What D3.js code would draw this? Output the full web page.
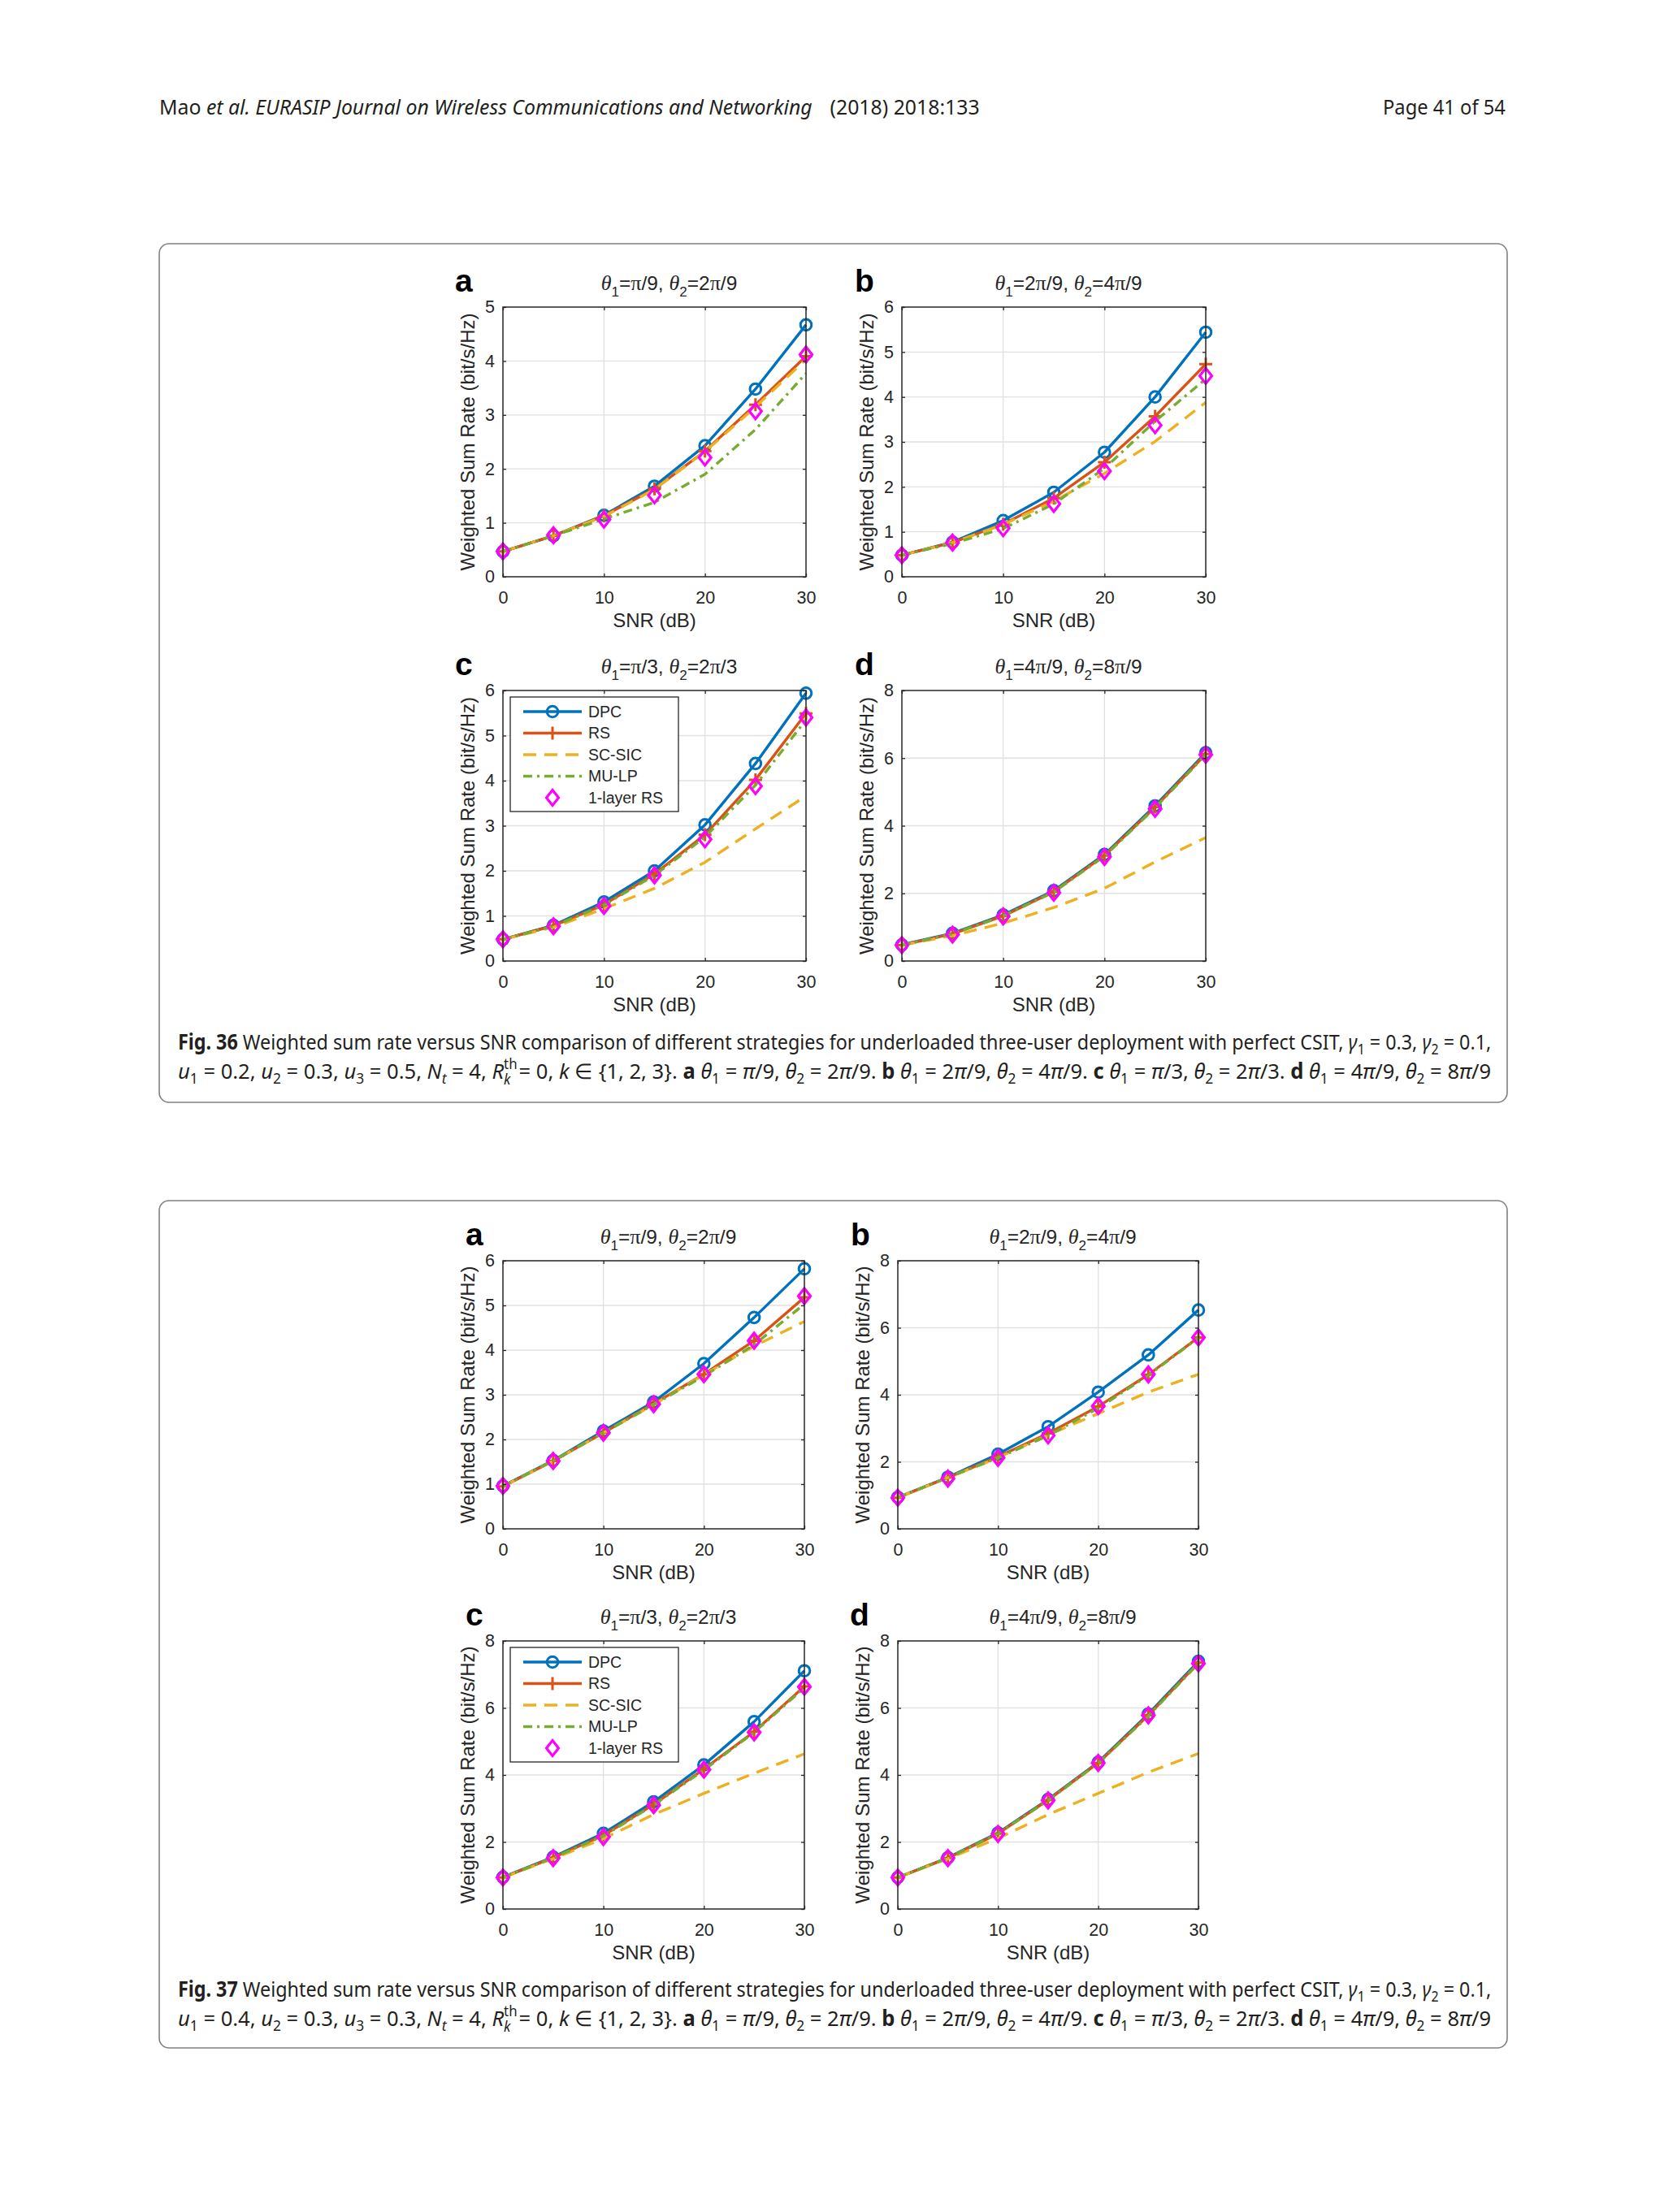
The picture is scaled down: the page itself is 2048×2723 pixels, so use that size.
<!DOCTYPE html>
<html>
<head>
<meta charset="utf-8">
<script src="https://cdn.jsdelivr.net/npm/d3@7"></script>
<style>
  body { margin: 0; background: #fff; }
  svg { display: block; }
</style>
</head>
<body>
<script>
// ---- data ----
const snr = [0, 5, 10, 15, 20, 25, 30];
const series = ['DPC', 'RS', 'SC-SIC', 'MU-LP', '1-layer RS'];
const xTicks = [0, 10, 20, 30];
const yMax36 = [5, 6, 6, 8];
const yMax37 = [6, 8, 8, 8];
const letters = ['a', 'b', 'c', 'd'];
const theta1 = ['π/9', '2π/9', 'π/3', '4π/9'];
const theta2 = ['2π/9', '4π/9', '2π/3', '8π/9'];

// Fig. 36, one row per panel a-d
const dpc36 = [
  [0.47, 0.76, 1.14, 1.68, 2.43, 3.48, 4.67],
  [0.48, 0.77, 1.25, 1.88, 2.77, 4.00, 5.44],
  [0.48, 0.79, 1.31, 2.00, 3.02, 4.38, 5.94],
  [0.48, 0.82, 1.36, 2.08, 3.15, 4.59, 6.16]
];
const rs36 = [
  [0.47, 0.76, 1.13, 1.63, 2.33, 3.19, 4.09],
  [0.48, 0.76, 1.17, 1.75, 2.55, 3.57, 4.73],
  [0.48, 0.78, 1.25, 1.93, 2.80, 4.02, 5.49],
  [0.47, 0.80, 1.33, 2.05, 3.12, 4.55, 6.12]
];
const scsic36 = [
  [0.47, 0.76, 1.12, 1.62, 2.32, 3.15, 4.03],
  [0.48, 0.76, 1.16, 1.68, 2.30, 3.01, 3.88],
  [0.48, 0.75, 1.16, 1.61, 2.19, 2.93, 3.66],
  [0.47, 0.75, 1.12, 1.58, 2.15, 2.93, 3.65]
];
const mulp36 = [
  [0.47, 0.76, 1.07, 1.38, 1.90, 2.73, 3.77],
  [0.48, 0.74, 1.07, 1.62, 2.41, 3.46, 4.40],
  [0.48, 0.77, 1.24, 1.90, 2.75, 3.90, 5.35],
  [0.47, 0.80, 1.33, 2.04, 3.10, 4.53, 6.10]
];
const rs1_36 = [
  [0.47, 0.77, 1.06, 1.51, 2.21, 3.07, 4.12],
  [0.48, 0.76, 1.08, 1.62, 2.35, 3.37, 4.47],
  [0.48, 0.77, 1.22, 1.90, 2.70, 3.88, 5.40],
  [0.47, 0.78, 1.32, 2.02, 3.08, 4.50, 6.10]
];

// Fig. 37
const dpc37 = [
  [0.96, 1.53, 2.19, 2.84, 3.70, 4.73, 5.82],
  [0.94, 1.54, 2.23, 3.05, 4.08, 5.19, 6.53],
  [0.95, 1.55, 2.26, 3.20, 4.30, 5.59, 7.11],
  [0.94, 1.53, 2.27, 3.27, 4.38, 5.82, 7.39]
];
const rs37 = [
  [0.95, 1.52, 2.15, 2.80, 3.46, 4.21, 5.18],
  [0.93, 1.53, 2.15, 2.85, 3.65, 4.60, 5.71],
  [0.94, 1.53, 2.20, 3.12, 4.18, 5.29, 6.64],
  [0.94, 1.52, 2.25, 3.25, 4.36, 5.78, 7.35]
];
const scsic37 = [
  [0.95, 1.52, 2.15, 2.78, 3.45, 4.09, 4.64],
  [0.93, 1.53, 2.12, 2.80, 3.44, 4.08, 4.61],
  [0.94, 1.50, 2.10, 2.82, 3.45, 4.05, 4.63],
  [0.94, 1.50, 2.11, 2.82, 3.45, 4.08, 4.64]
];
const mulp37 = [
  [0.95, 1.52, 2.15, 2.78, 3.42, 4.12, 5.03],
  [0.93, 1.53, 2.12, 2.78, 3.60, 4.58, 5.70],
  [0.94, 1.53, 2.18, 3.10, 4.15, 5.27, 6.60],
  [0.94, 1.52, 2.25, 3.24, 4.35, 5.76, 7.33]
];
const rs1_37 = [
  [0.96, 1.52, 2.15, 2.79, 3.46, 4.21, 5.21],
  [0.93, 1.50, 2.12, 2.79, 3.66, 4.61, 5.71],
  [0.94, 1.52, 2.15, 3.10, 4.16, 5.27, 6.63],
  [0.94, 1.52, 2.24, 3.24, 4.36, 5.78, 7.33]
];

// ---- styles ----
const colors = ['#0072BD', '#D95319', '#EDB120', '#77AC30', '#FF00FF'];
const dashes = [null, null, '16,10', '11,6,3,6', null];
const markers = ['circle', 'plus', null, null, 'diamond'];
const axisColor = '#262626';
const sans = '"Liberation Sans", Arial, Helvetica, sans-serif';
const serif = '"Liberation Serif", "Times New Roman", serif';
const pageFont = '"Noto Sans", "Open Sans", sans-serif';

const svg = d3.select('body').append('svg')
  .attr('width', 2048)
  .attr('height', 2723);

svg.append('rect').attr('width', 2048).attr('height', 2723).attr('fill', '#fff');

// writes a run of styled pieces into a <text>, tracking sub/superscript shift
function rich(text, segs, styles) {
  let shift = 0, prevW = 0, pendingDx = 0;
  segs.forEach(([str, key]) => {
    const st = styles[key || ''] || {};
    const ts = text.append('tspan').text(str);
    const target = st.shift || 0;
    if (target !== shift) { ts.attr('dy', target - shift); shift = target; }
    if (st.family) ts.style('font-family', st.family);
    if (st.size) ts.style('font-size', st.size + 'px');
    if (st.weight) ts.style('font-weight', st.weight);
    if (st.italic) ts.style('font-style', 'italic');
    let dx = (st.dx || 0) + pendingDx;
    pendingDx = 0;
    if (st.back) dx -= prevW;
    if (dx) ts.attr('dx', dx);
    const w = ts.node().getComputedTextLength();
    // stacked sub under a sup: continue after the wider of the two
    if (st.back) pendingDx = Math.max(0, prevW - w) + 2;
    prevW = w;
  });
}

// squeeze/stretch a text line horizontally so it spans [x0, x0 + width]
function fitLine(segs, styles, x0, y, width, size) {
  const g = svg.append('g');
  const t = g.append('text')
    .style('font-family', pageFont)
    .style('font-size', size + 'px')
    .attr('fill', '#231f20');
  rich(t, segs, styles);
  const bb = t.node().getBBox();
  const sx = width / bb.width;
  g.attr('transform', `translate(${x0 - bb.x * sx},${y}) scale(${sx},1)`);
}

const capFs = 26;
const capStyles = {
  '': {},
  b: { weight: 700 },
  i: { italic: true },
  sub: { shift: 6, size: capFs * 0.68 },
  isub: { shift: 6, size: capFs * 0.68, italic: true },
  sup: { shift: -12, size: capFs * 0.66 },
  ksub: { shift: 7, size: capFs * 0.66, italic: true, back: true },
  gap: { dx: 22 }
};

// ---- header ----
fitLine([['Mao ', ''], ['et al. EURASIP Journal on Wireless Communications and Networking', 'i'], ['(2018) 2018:133', 'gap']],
  capStyles, 196, 141, 1010, 25);
fitLine([['Page 41 of 54', '']], capStyles, 1702, 141, 151, 25);

// ---- frames ----
[[300, 1057], [1478, 1043]].forEach(([y, h]) => {
  svg.append('rect')
    .attr('x', 196).attr('y', y)
    .attr('width', 1659).attr('height', h)
    .attr('rx', 12)
    .attr('fill', 'none')
    .attr('stroke', '#808080')
    .attr('stroke-width', 1.6);
});

// ---- one axes panel ----
function marker(sel, kind, color) {
  if (kind === 'circle') {
    sel.append('circle').attr('r', 6.8)
      .attr('fill', 'none').attr('stroke', color).attr('stroke-width', 3);
  } else if (kind === 'plus') {
    sel.append('path').attr('d', 'M-8,0H8M0,-8V8')
      .attr('fill', 'none').attr('stroke', color).attr('stroke-width', 3);
  } else if (kind === 'diamond') {
    sel.append('path').attr('d', 'M0,-9.5L7.5,0L0,9.5L-7.5,0Z')
      .attr('fill', 'none').attr('stroke', color).attr('stroke-width', 3.2);
  }
}

function panel(box, yMax, rows, idx, letterDx, withLegend) {
  const [L, T, W, H] = box;
  const g = svg.append('g');
  const x = d3.scaleLinear().domain([0, 30]).range([L, L + W]);
  const y = d3.scaleLinear().domain([0, yMax]).range([T + H, T]);
  const yTicks = d3.range(0, yMax + 0.001, yMax > 6 ? 2 : 1);

  // grid
  g.append('g').selectAll('line').data(xTicks.slice(1, -1)).join('line')
    .attr('x1', d => x(d)).attr('x2', d => x(d))
    .attr('y1', T).attr('y2', T + H)
    .attr('stroke', '#e1e1e1').attr('stroke-width', 1.3);
  g.append('g').selectAll('line').data(yTicks.slice(1, -1)).join('line')
    .attr('y1', d => y(d)).attr('y2', d => y(d))
    .attr('x1', L).attr('x2', L + W)
    .attr('stroke', '#e1e1e1').attr('stroke-width', 1.3);

  // series
  const line = d3.line().x((d, i) => x(snr[i])).y(d => y(d));
  rows.forEach((vals, s) => {
    if (s !== 4) {
      g.append('path').datum(vals)
        .attr('d', line)
        .attr('fill', 'none')
        .attr('stroke', colors[s])
        .attr('stroke-width', 3.4)
        .attr('stroke-linejoin', 'round')
        .attr('stroke-dasharray', dashes[s]);
    }
    if (markers[s]) {
      g.append('g').selectAll('g').data(vals).join('g')
        .attr('transform', (d, i) => `translate(${x(snr[i])},${y(d)})`)
        .each(function () { marker(d3.select(this), markers[s], colors[s]); });
    }
  });

  // axes (MATLAB style ticks inside on all four sides)
  const tk = 4;
  const styleAxis = a => {
    a.select('.domain').remove();
    a.selectAll('line').attr('stroke', axisColor).attr('stroke-width', 1.3);
    a.selectAll('text').attr('fill', axisColor)
      .style('font-family', sans).style('font-size', '21.5px');
  };
  g.append('g').attr('transform', `translate(0,${T + H})`)
    .call(d3.axisBottom(x).tickValues(xTicks).tickSizeInner(-tk).tickSizeOuter(0).tickPadding(18))
    .call(styleAxis);
  g.append('g').attr('transform', `translate(0,${T})`)
    .call(d3.axisTop(x).tickValues(xTicks).tickSizeInner(-tk).tickSizeOuter(0).tickFormat(''))
    .call(styleAxis);
  g.append('g').attr('transform', `translate(${L},0)`)
    .call(d3.axisLeft(y).tickValues(yTicks).tickSizeInner(-tk).tickSizeOuter(0).tickPadding(10).tickFormat(d3.format('d')))
    .call(styleAxis);
  g.append('g').attr('transform', `translate(${L + W},0)`)
    .call(d3.axisRight(y).tickValues(yTicks).tickSizeInner(-tk).tickSizeOuter(0).tickFormat(''))
    .call(styleAxis);

  g.append('rect')
    .attr('x', L).attr('y', T).attr('width', W).attr('height', H)
    .attr('fill', 'none').attr('stroke', axisColor).attr('stroke-width', 1.5);

  // labels
  g.append('text')
    .attr('transform', `translate(${L - 43},${T + H / 2}) rotate(-90)`)
    .attr('text-anchor', 'middle').attr('dy', '0.35em')
    .attr('fill', axisColor)
    .style('font-family', sans).style('font-size', '24px')
    .text('Weighted Sum Rate (bit/s/Hz)');
  g.append('text')
    .attr('x', L + W / 2).attr('y', T + H + 62)
    .attr('text-anchor', 'middle')
    .attr('fill', axisColor)
    .style('font-family', sans).style('font-size', '24px')
    .text('SNR (dB)');

  // title θ1=..., θ2=...
  const piSplit = str => str.split(/(π)/).filter(s => s).map(s => [s, s === 'π' ? 'pi' : '']);
  const title = g.append('text')
    .attr('x', L + W / 2 + 18).attr('y', T - 21)
    .attr('text-anchor', 'middle')
    .attr('fill', axisColor)
    .style('font-family', sans).style('font-size', '24.5px');
  rich(title, [['θ', 'th'], ['1', 'sub'], ['=', '']].concat(piSplit(theta1[idx]))
    .concat([[', ', ''], ['θ', 'th'], ['2', 'sub'], ['=', '']]).concat(piSplit(theta2[idx])), {
    '': {},
    th: { family: serif, italic: true, size: 26 },
    pi: { family: serif, size: 26 },
    sub: { shift: 8, size: 17 }
  });

  g.append('text')
    .attr('x', L + letterDx).attr('y', T - 19)
    .attr('fill', '#000')
    .style('font-family', sans).style('font-size', '39px').style('font-weight', 700)
    .text(letters[idx]);

  if (withLegend) {
    const lg = g.append('g').attr('transform', `translate(${L + 9},${T + 8})`);
    lg.append('rect').attr('width', 207).attr('height', 141)
      .attr('fill', '#fff').attr('stroke', axisColor).attr('stroke-width', 1.3);
    series.forEach((name, s) => {
      const row = lg.append('g').attr('transform', `translate(0,${18 + s * 26.5})`);
      if (s !== 4) {
        row.append('line').attr('x1', 16).attr('x2', 88)
          .attr('stroke', colors[s]).attr('stroke-width', 3.4)
          .attr('stroke-dasharray', dashes[s]);
      }
      if (markers[s]) {
        marker(row.append('g').attr('transform', 'translate(52,0)'), markers[s], colors[s]);
      }
      row.append('text').attr('x', 96).attr('dy', '0.35em')
        .attr('fill', axisColor)
        .style('font-family', sans).style('font-size', '19.5px')
        .text(name);
    });
  }
}

const boxes36 = [[619, 378, 373, 332], [1110, 378, 374, 332], [619, 850, 373, 333], [1110, 850, 374, 333]];
const boxes37 = [[619, 1552, 371, 330], [1105, 1552, 370, 330], [619, 2020, 371, 330], [1105, 2020, 370, 330]];
const letterDx36 = [-59, -58, -59, -58];
const letterDx37 = [-46, -58, -46, -59];

d3.range(4).forEach(i => {
  panel(boxes36[i], yMax36[i], [dpc36[i], rs36[i], scsic36[i], mulp36[i], rs1_36[i]], i, letterDx36[i], i === 2);
  panel(boxes37[i], yMax37[i], [dpc37[i], rs37[i], scsic37[i], mulp37[i], rs1_37[i]], i, letterDx37[i], i === 2);
});

// ---- captions ----
const capLine1 = num => [['Fig. ' + num, 'b'],
  [' Weighted sum rate versus SNR comparison of different strategies for underloaded three-user deployment with perfect CSIT, ', ''],
  ['γ', 'i'], ['1', 'sub'], [' = 0.3, ', ''], ['γ', 'i'], ['2', 'sub'], [' = 0.1,', '']];

const capLine2 = us => [
  ['u', 'i'], ['1', 'sub'], [' = ' + us[0] + ', ', ''],
  ['u', 'i'], ['2', 'sub'], [' = ' + us[1] + ', ', ''],
  ['u', 'i'], ['3', 'sub'], [' = ' + us[2] + ', ', ''],
  ['N', 'i'], ['t', 'isub'], [' = 4, ', ''],
  ['R', 'i'], ['th', 'sup'], ['k', 'ksub'], ['= 0, ', ''],
  ['k', 'i'], [' ∈ {1, 2, 3}. ', '']
].concat(...d3.range(4).map(i => {
  const pis = str => str.split(/(π)/).filter(s => s).map(s => [s, s === 'π' ? 'i' : '']);
  return [[letters[i], 'b'], [' ', ''], ['θ', 'i'], ['1', 'sub'], [' = ', '']]
    .concat(pis(theta1[i]))
    .concat([[', ', ''], ['θ', 'i'], ['2', 'sub'], [' = ', '']])
    .concat(pis(theta2[i]))
    .concat(i < 3 ? [['. ', '']] : []);
}));

fitLine(capLine1(36), capStyles, 219, 1292, 1617, capFs);
fitLine(capLine2(['0.2', '0.3', '0.5']), capStyles, 219, 1328, 1617, capFs);
fitLine(capLine1(37), capStyles, 219, 2458, 1617, capFs);
fitLine(capLine2(['0.4', '0.3', '0.3']), capStyles, 219, 2494, 1617, capFs);
</script>
</body>
</html>
